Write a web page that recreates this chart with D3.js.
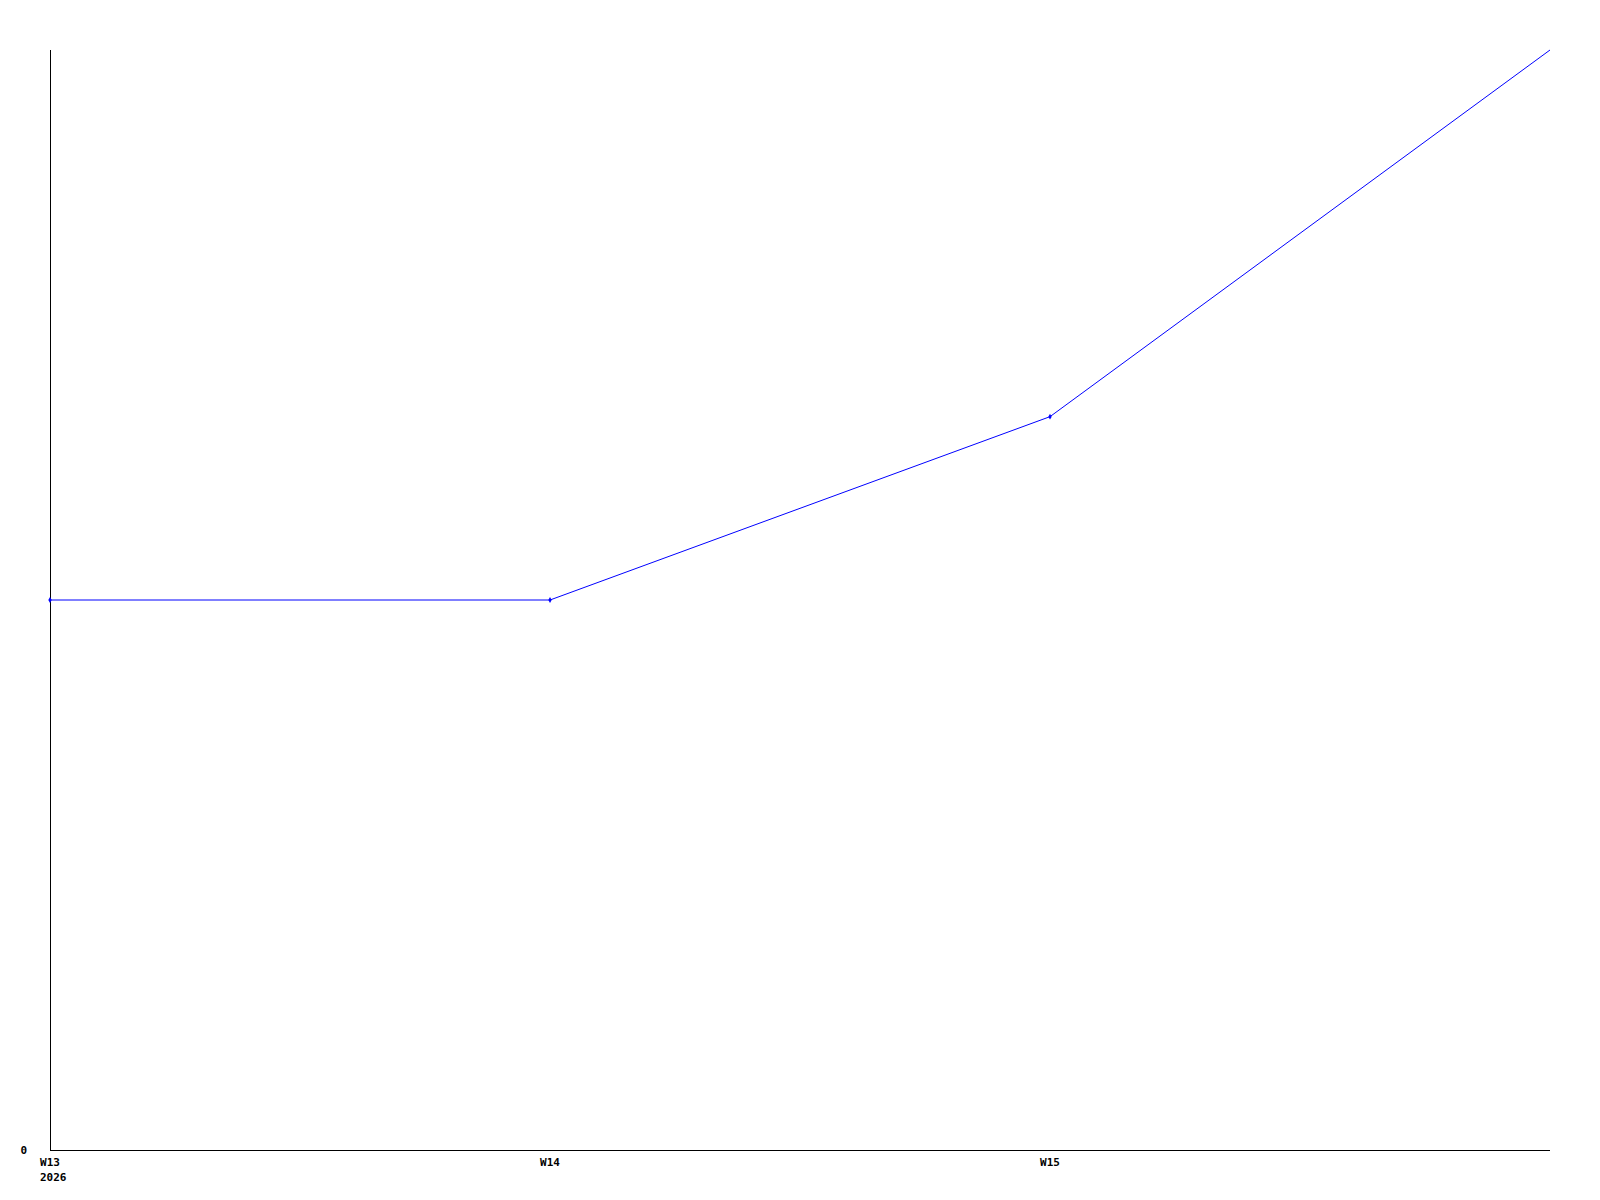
<!DOCTYPE html>
<html><head><meta charset="utf-8">
<script src="https://cdn.jsdelivr.net/npm/d3@7"></script>
<style>html,body{margin:0;padding:0;background:#fff;}svg{display:block;}</style>
</head><body>
<script>
const weeks = ["W13", "W14", "W15", "W16"];
const weekLabels = ["W13", "W14", "W15", ""];
const yearLabel = "2026";
const values = [3, 3, 4, 6];
const yTicks = [0];

const W = 1600, H = 1200;
const svg = d3.select("body").append("svg").attr("width", W).attr("height", H);
const x = d3.scalePoint().domain(weeks).range([50, 1550]);
const y = d3.scaleLinear().domain([0, 6]).range([1150, 50]);
const font = "'DejaVu Sans Mono', monospace";

// axes lines
svg.append("line").attr("x1", 50.5).attr("x2", 50.5).attr("y1", y(6)).attr("y2", y(0)+0.5).attr("stroke", "#000");
svg.append("line").attr("x1", 50).attr("x2", x("W16")).attr("y1", y(0)+0.5).attr("y2", y(0)+0.5).attr("stroke", "#000");

// y tick labels
svg.selectAll("text.yt").data(yTicks).enter().append("text")
  .attr("x", 27).attr("y", d => y(d)+4).attr("text-anchor", "end")
  .attr("font-family", font).attr("font-weight", "bold").attr("font-size", 11).text(d => d);

// x tick labels
svg.selectAll("text.xt").data(weeks).enter().append("text")
  .attr("x", d => x(d)).attr("y", 1166).attr("text-anchor", "middle")
  .attr("font-family", font).attr("font-weight", "bold").attr("font-size", 11)
  .text((d, i) => weekLabels[i]);
svg.append("text").attr("x", 40).attr("y", 1181).attr("font-family", font)
  .attr("font-weight", "bold").attr("font-size", 11).text(yearLabel);

const line = d3.line().x((d, i) => x(weeks[i])).y(d => y(d));
svg.append("path").datum(values).attr("d", line).attr("fill", "none").attr("stroke", "#0000ff").attr("stroke-width", 1);

svg.selectAll("path.m").data(values.slice(0, 3)).enter().append("path")
  .attr("d", d3.symbol().type(d3.symbolDiamond).size(10))
  .attr("transform", (d, i) => `translate(${x(weeks[i])},${y(d)})`)
  .attr("fill", "#0000ff");
</script>
</body></html>
